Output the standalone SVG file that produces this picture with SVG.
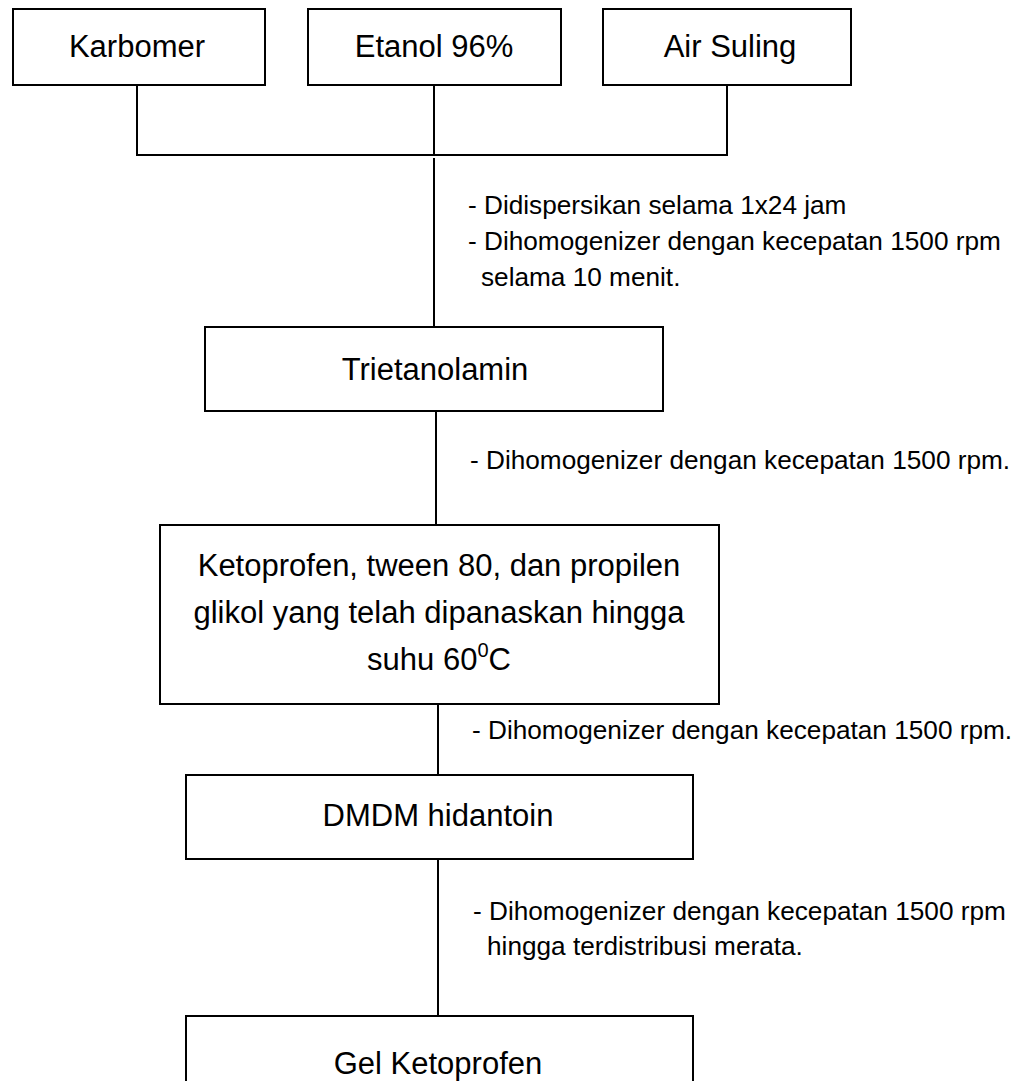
<svg xmlns="http://www.w3.org/2000/svg" width="1031" height="1081" viewBox="0 0 1031 1081">
<style>
.box{fill:#fff;stroke:#000;stroke-width:2}
.ln{fill:none;stroke:#000;stroke-width:2}
.t{font-family:"Liberation Sans",Arial,sans-serif;font-size:31px;fill:#000;text-anchor:middle}
.a{font-family:"Liberation Sans",Arial,sans-serif;font-size:26.2px;fill:#000}
</style>
<rect width="1031" height="1081" fill="#fff"/>
<g id="connectors">
<path class="ln" d="M137,85 V155 H727 V85"/>
<path class="ln" d="M434,85 V155"/>
<path class="ln" d="M434,158 V327"/>
<path class="ln" d="M436,411 V525"/>
<path class="ln" d="M438,704 V775"/>
<path class="ln" d="M438,859 V1016"/>
</g>
<g id="n-karbomer">
<rect class="box" x="13" y="9" width="252" height="76"/>
<text class="t" x="137" y="57">Karbomer</text>
</g>
<g id="n-etanol">
<rect class="box" x="308" y="9" width="253" height="76"/>
<text class="t" x="434" y="57">Etanol 96%</text>
</g>
<g id="n-air">
<rect class="box" x="603" y="9" width="248" height="76"/>
<text class="t" x="730" y="57">Air Suling</text>
</g>
<g id="lbl-1">
<text class="a" x="468" y="214">- Didispersikan selama 1x24 jam</text>
<text class="a" x="468" y="250">- Dihomogenizer dengan kecepatan 1500 rpm</text>
<text class="a" x="481" y="286">selama 10 menit.</text>
</g>
<g id="n-trietanolamin">
<rect class="box" x="205" y="327" width="458" height="84"/>
<text class="t" x="435" y="380">Trietanolamin</text>
</g>
<g id="lbl-2">
<text class="a" x="470" y="469">- Dihomogenizer dengan kecepatan 1500 rpm.</text>
</g>
<g id="n-ketoprofen">
<rect class="box" x="160" y="525" width="559" height="179"/>
<text class="t" x="439" y="576">Ketoprofen, tween 80, dan propilen</text>
<text class="t" x="439" y="623">glikol yang telah dipanaskan hingga</text>
<text class="t" x="439" y="670">suhu 60<tspan font-size="20" dy="-13">0</tspan><tspan dy="13">C</tspan></text>
</g>
<g id="lbl-3">
<text class="a" x="472" y="739">- Dihomogenizer dengan kecepatan 1500 rpm.</text>
</g>
<g id="n-dmdm">
<rect class="box" x="186" y="775" width="507" height="84"/>
<text class="t" x="438" y="826">DMDM hidantoin</text>
</g>
<g id="lbl-4">
<text class="a" x="473" y="920">- Dihomogenizer dengan kecepatan 1500 rpm</text>
<text class="a" x="487" y="955">hingga terdistribusi merata.</text>
</g>
<g id="n-gel">
<rect class="box" x="186" y="1016" width="507" height="84"/>
<text class="t" x="438" y="1074">Gel Ketoprofen</text>
</g>
</svg>
